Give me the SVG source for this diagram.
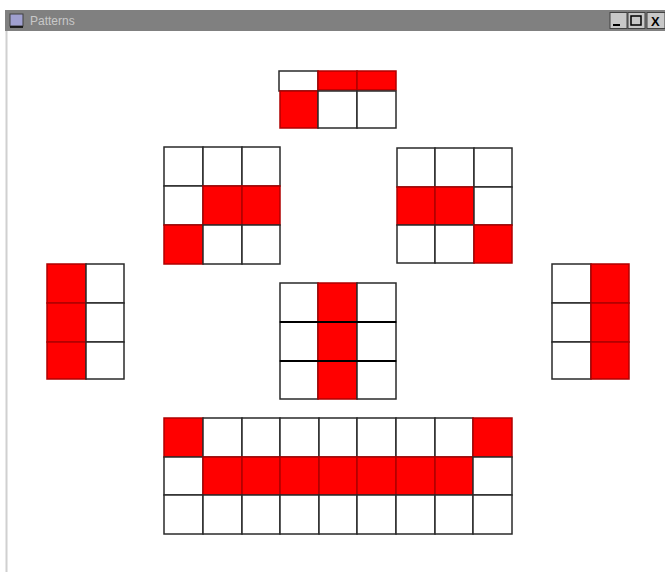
<svg xmlns="http://www.w3.org/2000/svg" width="665" height="572" viewBox="0 0 665 572">
<style>
.w{fill:#ffffff;stroke:#2a2a2a;stroke-width:1.5}
.r{fill:#ff0000;stroke:#b00000;stroke-width:1.5}
.btn{fill:#c8c8c8;stroke:#404040;stroke-width:1}
.gl{stroke:#000;stroke-width:2}
</style>
<rect x="0" y="0" width="665" height="572" fill="#ffffff"/>
<g id="window">
<rect x="5" y="10" width="660" height="21" fill="#808080"/>
<line x1="6.5" y1="31" x2="6.5" y2="572" stroke="#d0d0d0" stroke-width="2"/>
<rect x="10" y="14" width="13" height="12" fill="#a0a0d0" stroke="#404040" stroke-width="1"/>
<line x1="10" y1="27" x2="23" y2="27" stroke="#000" stroke-width="1.5"/>
<text x="30" y="25" font-family="Liberation Sans, Arial, sans-serif" font-size="12" fill="#c8c8c8">Patterns</text>
<rect class="btn" x="610" y="12.5" width="17" height="16"/>
<line x1="613" y1="25" x2="620" y2="25" stroke="#000" stroke-width="2"/>
<rect class="btn" x="628" y="12.5" width="17" height="16"/>
<rect x="631" y="16" width="10" height="9" fill="none" stroke="#000" stroke-width="1.5"/>
<rect class="btn" x="647" y="12.5" width="18" height="16"/>
<text x="651" y="26" font-family="Liberation Sans, Arial, sans-serif" font-size="13" font-weight="bold" fill="#000">X</text>
</g>
<g id="top">
<rect class="w" x="279" y="71" width="39" height="20"/>
<rect class="r" x="318" y="71" width="39" height="19"/>
<rect class="r" x="357" y="71" width="39" height="19"/>
<rect class="r" x="280" y="91" width="38" height="37"/>
<rect class="w" x="318" y="91" width="39" height="37"/>
<rect class="w" x="357" y="91" width="39" height="37"/>
</g>
<g id="upper-left">
<rect class="w" x="164" y="147" width="39" height="39"/>
<rect class="w" x="203" y="147" width="39" height="39"/>
<rect class="w" x="242" y="147" width="38" height="39"/>
<rect class="w" x="164" y="186" width="39" height="39"/>
<rect class="r" x="203" y="186" width="39" height="39"/>
<rect class="r" x="242" y="186" width="38" height="39"/>
<rect class="r" x="164" y="225" width="39" height="39"/>
<rect class="w" x="203" y="225" width="39" height="39"/>
<rect class="w" x="242" y="225" width="38" height="39"/>
</g>
<g id="upper-right">
<rect class="w" x="397" y="148" width="38" height="39"/>
<rect class="w" x="435" y="148" width="39" height="39"/>
<rect class="w" x="474" y="148" width="38" height="39"/>
<rect class="r" x="397" y="187" width="38" height="38"/>
<rect class="r" x="435" y="187" width="39" height="38"/>
<rect class="w" x="474" y="187" width="38" height="38"/>
<rect class="w" x="397" y="225" width="38" height="38"/>
<rect class="w" x="435" y="225" width="39" height="38"/>
<rect class="r" x="474" y="225" width="38" height="38"/>
</g>
<g id="left">
<rect class="r" x="47" y="264" width="39" height="39"/>
<rect class="w" x="86" y="264" width="38" height="39"/>
<rect class="r" x="47" y="303" width="39" height="39"/>
<rect class="w" x="86" y="303" width="38" height="39"/>
<rect class="r" x="47" y="342" width="39" height="37"/>
<rect class="w" x="86" y="342" width="38" height="37"/>
</g>
<g id="center">
<rect class="w" x="280" y="283" width="38" height="39"/>
<rect class="r" x="318" y="283" width="39" height="39"/>
<rect class="w" x="357" y="283" width="39" height="39"/>
<rect class="w" x="280" y="322" width="38" height="39"/>
<rect class="r" x="318" y="322" width="39" height="39"/>
<rect class="w" x="357" y="322" width="39" height="39"/>
<rect class="w" x="280" y="361" width="38" height="38"/>
<rect class="r" x="318" y="361" width="39" height="38"/>
<rect class="w" x="357" y="361" width="39" height="38"/>
<line class="gl" x1="280" y1="322" x2="396" y2="322"/>
<line class="gl" x1="280" y1="361" x2="396" y2="361"/>
</g>
<g id="right">
<rect class="w" x="552" y="264" width="39" height="39"/>
<rect class="r" x="591" y="264" width="38" height="39"/>
<rect class="w" x="552" y="303" width="39" height="39"/>
<rect class="r" x="591" y="303" width="38" height="39"/>
<rect class="w" x="552" y="342" width="39" height="37"/>
<rect class="r" x="591" y="342" width="38" height="37"/>
</g>
<g id="bottom">
<rect class="r" x="164" y="418" width="39" height="39"/>
<rect class="w" x="203" y="418" width="39" height="39"/>
<rect class="w" x="242" y="418" width="38" height="39"/>
<rect class="w" x="280" y="418" width="39" height="39"/>
<rect class="w" x="319" y="418" width="38" height="39"/>
<rect class="w" x="357" y="418" width="39" height="39"/>
<rect class="w" x="396" y="418" width="39" height="39"/>
<rect class="w" x="435" y="418" width="38" height="39"/>
<rect class="r" x="473" y="418" width="39" height="39"/>
<rect class="w" x="164" y="457" width="39" height="38"/>
<rect class="r" x="203" y="457" width="39" height="38"/>
<rect class="r" x="242" y="457" width="38" height="38"/>
<rect class="r" x="280" y="457" width="39" height="38"/>
<rect class="r" x="319" y="457" width="38" height="38"/>
<rect class="r" x="357" y="457" width="39" height="38"/>
<rect class="r" x="396" y="457" width="39" height="38"/>
<rect class="r" x="435" y="457" width="38" height="38"/>
<rect class="w" x="473" y="457" width="39" height="38"/>
<rect class="w" x="164" y="495" width="39" height="39"/>
<rect class="w" x="203" y="495" width="39" height="39"/>
<rect class="w" x="242" y="495" width="38" height="39"/>
<rect class="w" x="280" y="495" width="39" height="39"/>
<rect class="w" x="319" y="495" width="38" height="39"/>
<rect class="w" x="357" y="495" width="39" height="39"/>
<rect class="w" x="396" y="495" width="39" height="39"/>
<rect class="w" x="435" y="495" width="38" height="39"/>
<rect class="w" x="473" y="495" width="39" height="39"/>
</g>
</svg>
